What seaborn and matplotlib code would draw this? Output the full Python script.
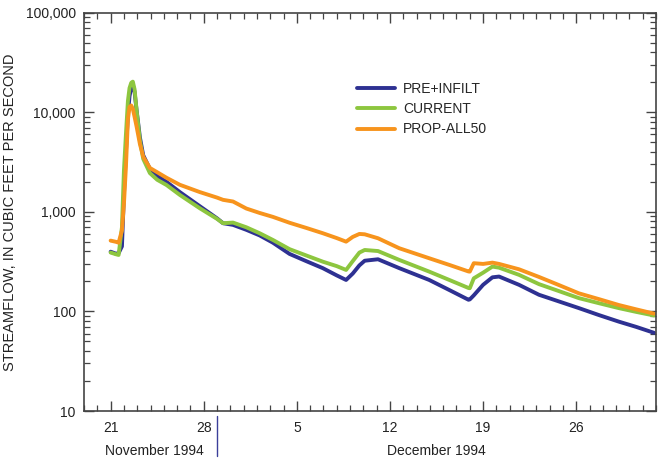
import matplotlib
matplotlib.use("Agg")
import matplotlib.pyplot as plt
import matplotlib.dates as mdates
import matplotlib.ticker as mticker
import numpy as np
import pandas as pd
import seaborn as sns

# Days after 21 November 1994 at which flows are listed
days = [0, 0.4, 0.6, 0.85, 1.0, 1.15, 1.3, 1.42, 1.55, 1.67, 1.8, 1.95, 2.2, 2.45,
        2.95, 3.5, 4.2, 5.2, 6.7, 8.0, 8.45, 9.2, 10.2, 11.2, 12.2, 13.45, 14.7,
        15.95, 17.0, 17.7, 18.2, 18.7, 19.1, 20.1, 21.7, 23.95, 25.5, 26.9, 27.0,
        27.3, 28.0, 28.7, 29.2, 30.7, 32.2, 33.7, 35.2, 36.7, 38.2, 39.5, 40.85]

# Streamflow, cubic feet per second
pre_infilt = [398, 380, 385, 450, 1500, 4000, 9500, 14500, 17800, 18800, 16000,
              10500, 5600, 3700, 2700, 2300, 2000, 1580, 1140, 860, 769, 740, 660,
              580, 490, 378, 320, 272, 230, 207, 240, 290, 323, 334, 272, 207,
              163, 131, 132, 145, 185, 220, 224, 185, 147, 126, 108, 92, 79, 70, 61]
current = [390, 375, 369, 700, 2600, 6000, 13000, 17500, 19800, 20300, 17000,
           10500, 5200, 3400, 2450, 2100, 1860, 1480, 1087, 850, 769, 780, 700,
           610, 522, 422, 365, 316, 285, 261, 320, 390, 414, 404, 329, 251, 206,
           172, 171, 215, 245, 282, 275, 233, 188, 160, 136, 121, 108, 99, 91]
prop_all50 = [514, 500, 490, 650, 1200, 2840, 8500, 11300, 11700, 10800, 9000,
              7200, 4800, 3580, 2760, 2500, 2200, 1870, 1580, 1390, 1320, 1270,
              1080, 975, 890, 777, 690, 610, 545, 502, 560, 600, 595, 543, 431,
              342, 292, 252, 251, 305, 300, 309, 300, 265, 222, 184, 152, 133,
              116, 105, 95]

series_names = ["PRE+INFILT", "CURRENT", "PROP-ALL50"]
series_colors = ["#2E3192", "#8DC63F", "#F7941D"]

week_ticks = ["1994-11-21", "1994-11-28", "1994-12-05", "1994-12-12",
              "1994-12-19", "1994-12-26"]
month_labels = ["November 1994", "December 1994"]
y_ticks = [10, 100, 1000, 10000, 100000]

start = pd.Timestamp("1994-11-21")
times = start + pd.to_timedelta(days, unit="D")
frames = []
for name, vals in zip(series_names, [pre_infilt, current, prop_all50]):
    frames.append(pd.DataFrame({"time": times, "flow": vals, "series": name}))
df = pd.concat(frames, ignore_index=True)

sns.set_theme(style="ticks")
plt.rcParams["font.family"] = ["Liberation Sans Narrow", "Liberation Sans", "DejaVu Sans"]

fs = 10
fig = plt.figure(figsize=(6.58, 4.63), dpi=100)
ax = fig.add_axes([0.1277, 0.1123, 0.8693, 0.8603])

sns.lineplot(data=df, x="time", y="flow", hue="series", hue_order=series_names,
             palette=series_colors, linewidth=2.8, ax=ax, legend=True)

ax.set_yscale("log")
ax.set_ylim(10, 100000)
ax.set_xlim(pd.Timestamp("1994-11-19"), pd.Timestamp("1995-01-01"))

ax.yaxis.set_major_locator(mticker.FixedLocator(y_ticks))
ax.yaxis.set_major_formatter(mticker.FuncFormatter(lambda v, p: f"{int(round(v)):,}"))
ax.yaxis.set_minor_locator(mticker.LogLocator(base=10, subs=np.arange(2, 10)))
ax.yaxis.set_minor_formatter(mticker.NullFormatter())

ax.xaxis.set_major_locator(mticker.FixedLocator(mdates.date2num(pd.to_datetime(week_ticks))))
ax.xaxis.set_major_formatter(mticker.FuncFormatter(lambda v, p: str(mdates.num2date(v).day)))
ax.xaxis.set_minor_locator(mdates.DayLocator())

edge = "#444444"
ax.tick_params(which="both", direction="in", top=True, right=True, colors=edge,
               labelcolor="#222222", labelsize=fs)
ax.tick_params(which="major", length=7, width=1.0)
ax.tick_params(which="minor", length=4, width=0.9)
ax.tick_params(axis="x", pad=7)
ax.tick_params(axis="y", pad=6)
for s in ax.spines.values():
    s.set_color(edge)
    s.set_linewidth(1.2)

ax.set_xlabel("")
ax.set_ylabel("STREAMFLOW, IN CUBIC FEET PER SECOND", fontsize=10.5,
              color="#222222")
ax.yaxis.set_label_coords(-0.117, 0.5)

# Month captions under the date ticks, with a divider between months
trans = ax.get_xaxis_transform()
ax.text(mdates.date2num(pd.Timestamp("1994-11-24 07:00")), -0.1, month_labels[0],
        transform=trans, ha="center", va="center", fontsize=fs, color="#222222")
ax.text(mdates.date2num(pd.Timestamp("1994-12-15 12:00")), -0.1, month_labels[1],
        transform=trans, ha="center", va="center", fontsize=fs, color="#222222")
ax.plot([mdates.date2num(pd.Timestamp("1994-11-29"))] * 2, [-0.012, -0.112],
        transform=trans, color="#3B3F9A", linewidth=1.0, clip_on=False)

leg = ax.legend(loc="upper left", bbox_to_anchor=(0.468, 0.84), frameon=False,
                fontsize=fs, handlelength=2.7, handletextpad=0.6,
                labelspacing=0.45, borderaxespad=0)
for line in leg.get_lines():
    line.set_linewidth(2.8)

fig.savefig("out.png", dpi=100)
